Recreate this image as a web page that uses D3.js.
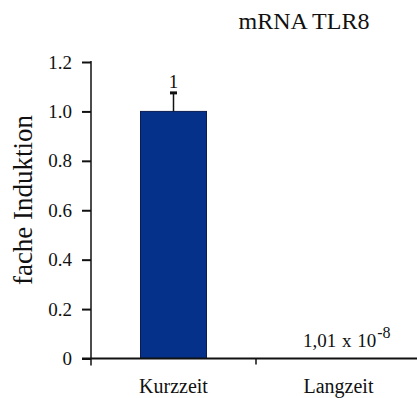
<!DOCTYPE html>
<html>
<head>
<meta charset="utf-8">
<script src="https://cdn.jsdelivr.net/npm/d3@7"></script>
<style>
  html, body { margin: 0; padding: 0; background: #fff; }
  svg { display: block; }
  text { font-family: "Liberation Serif", "Times New Roman", serif; fill: #111; }
</style>
</head>
<body>
<svg id="chart" width="417" height="398"></svg>
<script>
// Relative TLR8 mRNA expression
const categories = ["Kurzzeit", "Langzeit"];
const values = [1, 1.01e-8];
const errors = [0.075, 0];
const valueLabels = ["1", null];
const yTicks = [0, 0.2, 0.4, 0.6, 0.8, 1.0, 1.2];
const yTickLabels = ["0", "0.2", "0.4", "0.6", "0.8", "1.0", "1.2"];

const svg = d3.select("#chart");
const W = 417, H = 398;
const plotLeft = 91, plotRight = 421, plotTop = 62, plotBottom = 358.5;

const x = d3.scaleBand().domain(categories).range([plotLeft, plotRight]).padding(0);
const y = d3.scaleLinear().domain([0, 1.2]).range([plotBottom, plotTop]);
const barW = x.bandwidth() * 0.4;

// title
svg.append("text")
  .attr("x", 304).attr("y", 29)
  .attr("text-anchor", "middle")
  .style("font-size", "24px")
  .text("mRNA TLR8");

// y axis
const yAxis = d3.axisLeft(y)
  .tickValues(yTicks)
  .tickFormat((d, i) => yTickLabels[i])
  .tickSize(9)
  .tickPadding(10);
const gy = svg.append("g").attr("transform", `translate(${plotLeft},0)`).call(yAxis);
gy.select(".domain").remove();
gy.selectAll(".tick line").attr("stroke", "#111").attr("stroke-width", 2);
gy.selectAll(".tick text")
  .style("font-size", "19px")
  .style("font-family", "'Liberation Serif', 'Times New Roman', serif")
  .attr("fill", "#111");
svg.append("line")
  .attr("x1", plotLeft).attr("x2", plotLeft)
  .attr("y1", y(1.2) - 1).attr("y2", plotBottom + 7)
  .attr("stroke", "#111").attr("stroke-width", 1.5);

// y label
svg.append("text")
  .attr("transform", `translate(32,200) rotate(-90)`)
  .attr("text-anchor", "middle")
  .style("font-size", "27px")
  .text("fache Induktion");

// bars
svg.selectAll("rect.bar")
  .data(categories.map((c, i) => ({ c, v: values[i] })))
  .join("rect")
  .attr("class", "bar")
  .attr("x", d => x(d.c) + (x.bandwidth() - barW) / 2)
  .attr("width", barW)
  .attr("y", d => y(d.v))
  .attr("height", d => plotBottom - y(d.v))
  .attr("fill", "#05318a")
  .attr("stroke", "#0b1d50")
  .attr("stroke-width", 1);

// error bars
categories.forEach((c, i) => {
  if (!errors[i]) return;
  const cx = x(c) + x.bandwidth() / 2;
  svg.append("line")
    .attr("x1", cx).attr("x2", cx)
    .attr("y1", y(values[i])).attr("y2", y(values[i] + errors[i]))
    .attr("stroke", "#111").attr("stroke-width", 1.5);
  svg.append("line")
    .attr("x1", cx - 3.5).attr("x2", cx + 3.5)
    .attr("y1", y(values[i] + errors[i])).attr("y2", y(values[i] + errors[i]))
    .attr("stroke", "#111").attr("stroke-width", 3);
});

// value labels
categories.forEach((c, i) => {
  if (!valueLabels[i]) return;
  svg.append("text")
    .attr("x", x(c) + x.bandwidth() / 2)
    .attr("y", y(values[i] + errors[i]) - 5)
    .attr("text-anchor", "middle")
    .style("font-size", "19px")
    .text(valueLabels[i]);
});

// small-value annotation for Langzeit
const ann = svg.append("text")
  .attr("x", 303)
  .attr("y", plotBottom - 11.5)
  .attr("text-anchor", "start")
  .style("font-size", "19px")
  .style("word-spacing", "1px");
ann.append("tspan").text("1,01 x 10");
ann.append("tspan").attr("dx", 1).attr("dy", -9).style("font-size", "16px").text("-8");

// x axis
const xAxis = d3.axisBottom(x).tickSize(0).tickPadding(20);
const gx = svg.append("g").attr("transform", `translate(0,${plotBottom})`).call(xAxis);
gx.select(".domain").remove();
gx.selectAll(".tick text")
  .style("font-size", "20px")
  .style("font-family", "'Liberation Serif', 'Times New Roman', serif")
  .attr("fill", "#111");
svg.append("line")
  .attr("x1", plotLeft - 9).attr("x2", W)
  .attr("y1", plotBottom).attr("y2", plotBottom)
  .attr("stroke", "#111").attr("stroke-width", 2);
// category separators
x.domain().slice(1).forEach(c => {
  svg.append("line")
    .attr("x1", x(c)).attr("x2", x(c))
    .attr("y1", plotBottom).attr("y2", plotBottom + 6)
    .attr("stroke", "#111").attr("stroke-width", 1.5);
});
</script>
</body>
</html>
